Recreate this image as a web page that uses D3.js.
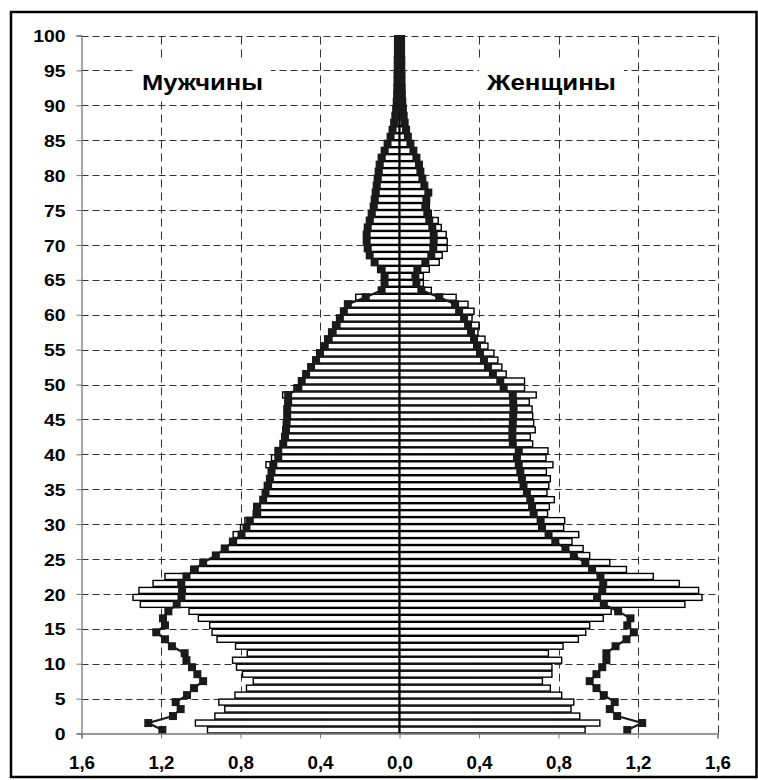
<!doctype html>
<html lang="ru">
<head>
<meta charset="utf-8" />
<title>Половозрастная пирамида</title>
<script src="https://cdn.jsdelivr.net/npm/d3@7"></script>
<style>
  body { margin: 0; background: #fff; }
  svg { display: block; }
  .tick text { font-family: "Liberation Sans", Arial, sans-serif; font-weight: bold; font-size: 17px; fill: #000; }
</style>
</head>
<body>
<script>
// ages 0..99, one bar per year, share of population in %
var ages = d3.range(0, 100);

var menBars = [
  0.966, 1.027, 0.929, 0.879, 0.909, 0.828, 0.770, 0.736, 0.790, 0.820,
  0.840, 0.766, 0.825, 0.918, 0.943, 0.955, 1.012, 1.059, 1.304, 1.341,
  1.311, 1.240, 1.180, 1.050, 1.000, 0.940, 0.895, 0.855, 0.837, 0.800,
  0.778, 0.736, 0.733, 0.690, 0.675, 0.680, 0.665, 0.652, 0.672, 0.644,
  0.620, 0.595, 0.585, 0.580, 0.580, 0.578, 0.576, 0.575, 0.588, 0.531,
  0.500, 0.470, 0.440, 0.410, 0.385, 0.360, 0.340, 0.320, 0.300, 0.295,
  0.285, 0.275, 0.220, 0.085, 0.080, 0.085, 0.110, 0.140, 0.155, 0.160,
  0.165, 0.160, 0.150, 0.135, 0.125, 0.115, 0.110, 0.105, 0.100, 0.095,
  0.090, 0.085, 0.075, 0.060, 0.048, 0.036, 0.028, 0.022, 0.018, 0.015,
  0.013, 0.012, 0.011, 0.010, 0.009, 0.008, 0.008, 0.007, 0.006, 0.006
];

var womenBars = [
  0.934, 1.008, 0.907, 0.863, 0.877, 0.816, 0.759, 0.719, 0.767, 0.767,
  0.816, 0.749, 0.823, 0.900, 0.937, 0.957, 1.025, 1.065, 1.436, 1.522,
  1.505, 1.408, 1.277, 1.142, 1.058, 0.957, 0.924, 0.868, 0.902, 0.826,
  0.831, 0.745, 0.754, 0.779, 0.742, 0.751, 0.759, 0.739, 0.772, 0.737,
  0.747, 0.670, 0.658, 0.683, 0.675, 0.670, 0.667, 0.653, 0.688, 0.629,
  0.629, 0.537, 0.515, 0.495, 0.475, 0.445, 0.430, 0.395, 0.400, 0.365,
  0.375, 0.345, 0.285, 0.160, 0.120, 0.120, 0.150, 0.200, 0.215, 0.240,
  0.240, 0.235, 0.210, 0.195, 0.160, 0.150, 0.140, 0.145, 0.125, 0.115,
  0.110, 0.100, 0.085, 0.068, 0.052, 0.040, 0.032, 0.025, 0.020, 0.017,
  0.015, 0.013, 0.012, 0.011, 0.010, 0.009, 0.009, 0.008, 0.007, 0.007
];

var menLine = [
  1.193, 1.264, 1.140, 1.101, 1.126, 1.069, 1.034, 0.988, 1.017, 1.044,
  1.072, 1.081, 1.145, 1.180, 1.224, 1.180, 1.190, 1.163, 1.121, 1.097,
  1.094, 1.098, 1.072, 1.030, 0.988, 0.924, 0.879, 0.837, 0.795, 0.770,
  0.753, 0.716, 0.716, 0.686, 0.674, 0.661, 0.652, 0.644, 0.635, 0.610,
  0.610, 0.585, 0.576, 0.571, 0.568, 0.565, 0.565, 0.560, 0.560, 0.509,
  0.492, 0.470, 0.445, 0.420, 0.400, 0.380, 0.360, 0.340, 0.320, 0.300,
  0.280, 0.260, 0.170, 0.090, 0.075, 0.075, 0.090, 0.125, 0.150, 0.160,
  0.165, 0.165, 0.160, 0.150, 0.140, 0.130, 0.125, 0.120, 0.115, 0.110,
  0.105, 0.100, 0.090, 0.075, 0.060, 0.045, 0.035, 0.027, 0.021, 0.017,
  0.014, 0.012, 0.011, 0.010, 0.010, 0.009, 0.009, 0.008, 0.008, 0.008
];

var womenLine = [
  1.146, 1.221, 1.095, 1.058, 1.083, 1.028, 0.991, 0.957, 0.991, 1.020,
  1.041, 1.041, 1.087, 1.142, 1.179, 1.146, 1.162, 1.100, 1.028, 0.994,
  1.020, 1.025, 1.011, 0.969, 0.935, 0.877, 0.835, 0.784, 0.750, 0.717,
  0.710, 0.675, 0.667, 0.658, 0.641, 0.624, 0.616, 0.608, 0.600, 0.591,
  0.600, 0.570, 0.568, 0.568, 0.570, 0.572, 0.574, 0.572, 0.570, 0.524,
  0.507, 0.470, 0.445, 0.425, 0.405, 0.390, 0.375, 0.360, 0.345, 0.325,
  0.300, 0.280, 0.200, 0.110, 0.085, 0.080, 0.090, 0.130, 0.160, 0.170,
  0.172, 0.172, 0.165, 0.150, 0.140, 0.130, 0.135, 0.145, 0.125, 0.115,
  0.105, 0.098, 0.085, 0.070, 0.055, 0.042, 0.033, 0.026, 0.021, 0.017,
  0.014, 0.012, 0.011, 0.010, 0.010, 0.009, 0.009, 0.008, 0.008, 0.008
];

var yTicks = d3.range(0, 101, 5);
var xTicks = [-1.6, -1.2, -0.8, -0.4, 0, 0.4, 0.8, 1.2, 1.6];
var sideLabels = ["Мужчины", "Женщины"];

var w = 758, h = 780;
var x = d3.scaleLinear().domain([-1.6, 1.6]).range([81.5, 717.5]);
var y = d3.scaleLinear().domain([0, 100]).range([733.5, 35.5]);
var band = y(0) - y(1);

var ru = d3.formatLocale({decimal: ",", thousands: " ", grouping: [3], currency: ["", ""]});
var fmt = ru.format(".1f");

var svg = d3.select("body").append("svg")
  .attr("width", w)
  .attr("height", h);

svg.append("rect")
  .attr("width", w).attr("height", h)
  .attr("fill", "#fff");

// outer frame
svg.append("rect")
  .attr("x", 11).attr("y", 12)
  .attr("width", 745.5).attr("height", 765)
  .attr("fill", "none")
  .attr("stroke", "#000")
  .attr("stroke-width", 2.5);

// dashed grid
svg.append("g").selectAll("line")
  .data(yTicks.filter(function(d) { return d > 0; }))
  .enter().append("line")
  .attr("x1", x(-1.6)).attr("x2", x(1.6))
  .attr("y1", function(d) { return Math.round(y(d)) + 0.5; })
  .attr("y2", function(d) { return Math.round(y(d)) + 0.5; })
  .attr("stroke", "#333")
  .attr("stroke-dasharray", "7,4");

svg.append("g").selectAll("line")
  .data(xTicks.filter(function(d) { return d > -1.6 && d !== 0; }))
  .enter().append("line")
  .attr("x1", function(d) { return Math.round(x(d)) + 0.5; })
  .attr("x2", function(d) { return Math.round(x(d)) + 0.5; })
  .attr("y1", y(0)).attr("y2", y(100))
  .attr("stroke", "#333")
  .attr("stroke-dasharray", "8,5");

// bars
function drawBars(vals, sign) {
  svg.append("g").selectAll("rect")
    .data(ages)
    .enter().append("rect")
    .attr("x", function(a) { return sign < 0 ? x(-vals[a]) : x(0); })
    .attr("y", function(a) { return y(a + 1) + 0.5; })
    .attr("width", function(a) { return Math.abs(x(sign * vals[a]) - x(0)); })
    .attr("height", band - 1)
    .attr("fill", "#fff")
    .attr("stroke", "#000")
    .attr("stroke-width", 1.4);
}
drawBars(menBars, -1);
drawBars(womenBars, 1);

// centre line
svg.append("line")
  .attr("x1", x(0)).attr("x2", x(0))
  .attr("y1", y(0)).attr("y2", y(100))
  .attr("stroke", "#000")
  .attr("stroke-width", 2);

// lines with square markers
function drawLine(vals, sign) {
  var line = d3.line()
    .x(function(a) { return x(sign * vals[a]); })
    .y(function(a) { return y(a + 0.5); });
  svg.append("path")
    .datum(ages)
    .attr("d", line)
    .attr("fill", "none")
    .attr("stroke", "#1a1a1a")
    .attr("stroke-width", 2.2);
  svg.append("g").selectAll("rect")
    .data(ages)
    .enter().append("rect")
    .attr("x", function(a) { return x(sign * vals[a]) - 4; })
    .attr("y", function(a) { return y(a + 0.5) - 4; })
    .attr("width", 8).attr("height", 8)
    .attr("fill", "#1a1a1a");
}
drawLine(menLine, -1);
drawLine(womenLine, 1);

// stretch the bold labels a little, as in the original
function widen(sel, k) {
  sel.attr("textLength", function() { return this.getComputedTextLength() * k; })
    .attr("lengthAdjust", "spacingAndGlyphs");
}

// axes
var yAxis = d3.axisLeft(y).tickValues(yTicks).tickSize(5).tickPadding(11)
  .tickFormat(d3.format("d"));
var gy = svg.append("g")
  .attr("transform", "translate(" + x(-1.6) + ",0)")
  .call(yAxis);
gy.selectAll(".tick text").attr("dy", "0.36em").call(widen, 1.14);

var xAxis = d3.axisBottom(x).tickValues(xTicks).tickSize(5).tickPadding(18)
  .tickFormat(function(d) { return fmt(Math.abs(d)); });
var gx = svg.append("g")
  .attr("transform", "translate(0," + y(0) + ")")
  .call(xAxis);
gx.selectAll(".tick text").style("font-size", "18px").call(widen, 1.04);

svg.selectAll(".domain").attr("stroke", "#777").attr("stroke-width", 1.3);
svg.selectAll(".tick line").attr("stroke", "#777");

// side labels
var labelX = [142, 487];
var labelW = [121, 129];
sideLabels.forEach(function(t, i) {
  svg.append("rect")
    .attr("x", labelX[i] - 8).attr("y", 60)
    .attr("width", labelW[i] + 16).attr("height", 40)
    .attr("fill", "#fff");
  svg.append("text")
    .attr("x", labelX[i]).attr("y", 90)
    .attr("font-family", "Liberation Sans, Arial, sans-serif")
    .attr("font-weight", "bold")
    .attr("font-size", 22)
    .attr("fill", "#000")
    .attr("textLength", labelW[i])
    .attr("lengthAdjust", "spacingAndGlyphs")
    .text(t);
});
</script>
</body>
</html>
